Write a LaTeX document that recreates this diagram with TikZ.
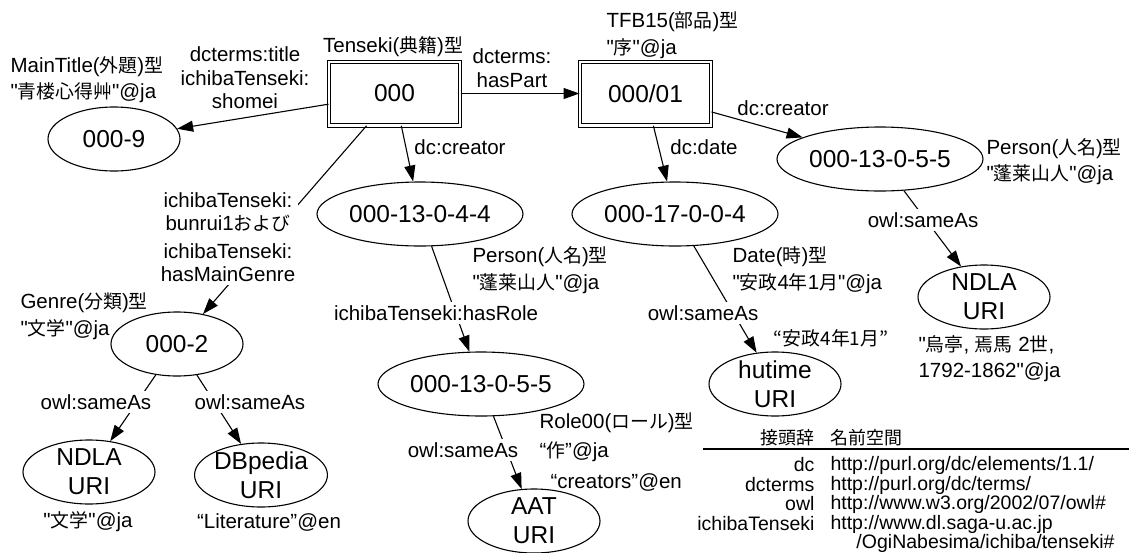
\documentclass[tikz,border=0pt]{standalone}
\usepackage{fontspec}
\setmainfont{Liberation Sans}[Ligatures=TeXOff]
\newfontfamily\jpfont{Noto Sans CJK JP}[Scale=0.92]
\newcommand\jp[1]{{\jpfont #1}}
\usetikzlibrary{shapes.geometric,arrows.meta}
\newcommand\nodefont{\fontsize{24.5}{29}\selectfont}
\newcommand\lblfont{\fontsize{20.5}{23.5}\selectfont}
\newcommand\notefont{\fontsize{20.5}{26.5}\selectfont}
\newcommand\tabfont{\fontsize{19.5}{19.5}\selectfont}
\tikzset{
  ent/.style={draw, ellipse, minimum width=132pt, minimum height=64pt,
    inner sep=0pt, font=\nodefont, align=center},
  wideent/.style={ent, minimum width=206pt},
  twoline/.style={ent, inner ysep=-10pt},
  item/.style={draw, double, double distance=2.5pt, line width=1pt,
    minimum width=131pt, minimum height=63.5pt, inner sep=0pt, font=\nodefont},
  lbl/.style={font=\lblfont, align=center, inner sep=2pt},
  onedge/.style={lbl, fill=white, inner sep=3pt},
  note/.style={font=\notefont, align=left, anchor=west, inner sep=0pt},
  arr/.style={-{Triangle[length=16pt,width=11pt]}},
  tabl/.style={font=\tabfont, inner sep=0pt, anchor=east},
  tabr/.style={font=\tabfont, inner sep=0pt, anchor=west},
}
\begin{document}
\begin{tikzpicture}[x=1pt, y=-1pt, line width=1.1pt]
\useasboundingbox (0,0) rectangle (1129,552);

% resources
\node[item] (b0) at (394.5,93.5) {000};
\node[item] (b1) at (645.5,93.5) {000/01};

% entities
\node[ent] (e9) at (114,139) {000-9};
\node[ent] (e2) at (177,344) {000-2};
\node[twoline] (ndla1) at (89,472) {NDLA\\URI};
\node[twoline] (dbp) at (261,475) {DBpedia\\URI};
\node[wideent] (c44) at (420,214) {000-13-0-4-4};
\node[wideent] (d04) at (675,214) {000-17-0-0-4};
\node[wideent] (c55r) at (880,159) {000-13-0-5-5};
\node[twoline] (ndla2) at (984,297) {NDLA\\URI};
\node[wideent] (c55m) at (481,384) {000-13-0-5-5};
\node[twoline] (aat) at (534,521) {AAT\\URI};
\node[twoline] (hut) at (775,384) {hutime\\URI};

% connectors
\draw[arr] (b0) -- (b1);
\draw[arr] (b0) -- (e9);
\draw[arr] (b0) -- (c44);
\draw[arr] (b0) -- (e2);
\draw[arr] (b1) -- (d04);
\draw[arr] (b1) -- (c55r);
\draw[arr] (e2) -- (ndla1);
\draw[arr] (e2) -- (dbp);
\draw[arr] (c44) -- (c55m);
\draw[arr] (c55m) -- (aat);
\draw[arr] (d04) -- (hut);
\draw[arr] (c55r) -- (ndla2);

% property labels
\node[lbl] (pPart) at (512,68) {dcterms:\\hasPart};
\node[lbl] (pTitle) at (245,78) {dcterms:title\\ichibaTenseki:\\shomei};
\node[lbl] (pCre1) at (460,147) {dc:creator};
\node[lbl] (pDate) at (704,147) {dc:date};
\node[lbl] (pCre2) at (783,108) {dc:creator};
\node[onedge] (pGenre) at (228,237) {ichibaTenseki:\\bunrui1\jp{および}\\[4pt]ichibaTenseki:\\hasMainGenre};
\node[onedge] (pSame1) at (96,402) {owl:sameAs};
\node[onedge] (pSame2) at (250,402) {owl:sameAs};
\node[onedge] (pRole) at (436,313) {ichibaTenseki:hasRole};
\node[onedge] (pSame3) at (463,450) {owl:sameAs};
\node[onedge] (pSame4) at (703,313) {owl:sameAs};
\node[onedge] (pSame5) at (923,220) {owl:sameAs};

% type and value notes
\node[lbl] (tTen) at (393,47) {Tenseki(\jp{典籍})\jp{型}};
\node[note] (tTFB) at (606,35) {TFB15(\jp{部品})\jp{型}\\"\jp{序}"@ja};
\node[note] (tMain) at (10,79.5) {MainTitle(\jp{外題})\jp{型}\\"\jp{青楼心得艸}"@ja};
\node[note] (tPer1) at (986,161.5) {Person(\jp{人名})\jp{型}\\"\jp{蓬莱山人}"@ja};
\node[note] (tUtei) at (918,358.5) {"\jp{烏亭}, \jp{焉馬} 2\jp{世},\\1792-1862"@ja};
\node[note] (tGenre) at (20,316.5) {Genre(\jp{分類})\jp{型}\\"\jp{文学}"@ja};
\node[lbl] (tBun) at (88,522) {"\jp{文学}"@ja};
\node[lbl] (tLit) at (269,522) {“Literature”@en};
\node[note] (tPer2) at (472,270) {Person(\jp{人名})\jp{型}\\"\jp{蓬莱山人}"@ja};
\node[note] (tDate) at (732,270) {Date(\jp{時})\jp{型}\\"\jp{安政}4\jp{年}1\jp{月}"@ja};
\node[lbl] (tAnsei) at (831,338) {\jp{“安政4年1月”}};
\node[note] (tRole) at (539,437.5) {Role00(\jp{ロール})\jp{型}\\[2pt]“\jp{作}”@ja};
\node[note] (tCreat) at (550,482) {“creators”@en};

% prefix table
\node[tabl] (hPre) at (815,438) {\jp{接頭辞}};
\node[tabr] (hNs) at (830,438) {\jp{名前空間}};
\coordinate (ruleL) at (703,449);
\coordinate (ruleR) at (1129,449);
\draw[line width=1.3pt] (ruleL) -- (ruleR);
\node[tabl] (k1) at (815,465) {dc};
\node[tabr] (v1) at (830,465) {http://purl.org/dc/elements/1.1/};
\node[tabl] (k2) at (815,485) {dcterms};
\node[tabr] (v2) at (830,485) {http://purl.org/dc/terms/};
\node[tabl] (k3) at (815,504) {owl};
\node[tabr] (v3) at (830,504) {http://www.w3.org/2002/07/owl\#};
\node[tabl] (k4) at (815,524) {ichibaTenseki};
\node[tabr] (v4) at (830,524) {http://www.dl.saga-u.ac.jp};
\node[tabl] (v4b) at (1115,543) {/OgiNabesima/ichiba/tenseki\#};
\end{tikzpicture}
\end{document}
